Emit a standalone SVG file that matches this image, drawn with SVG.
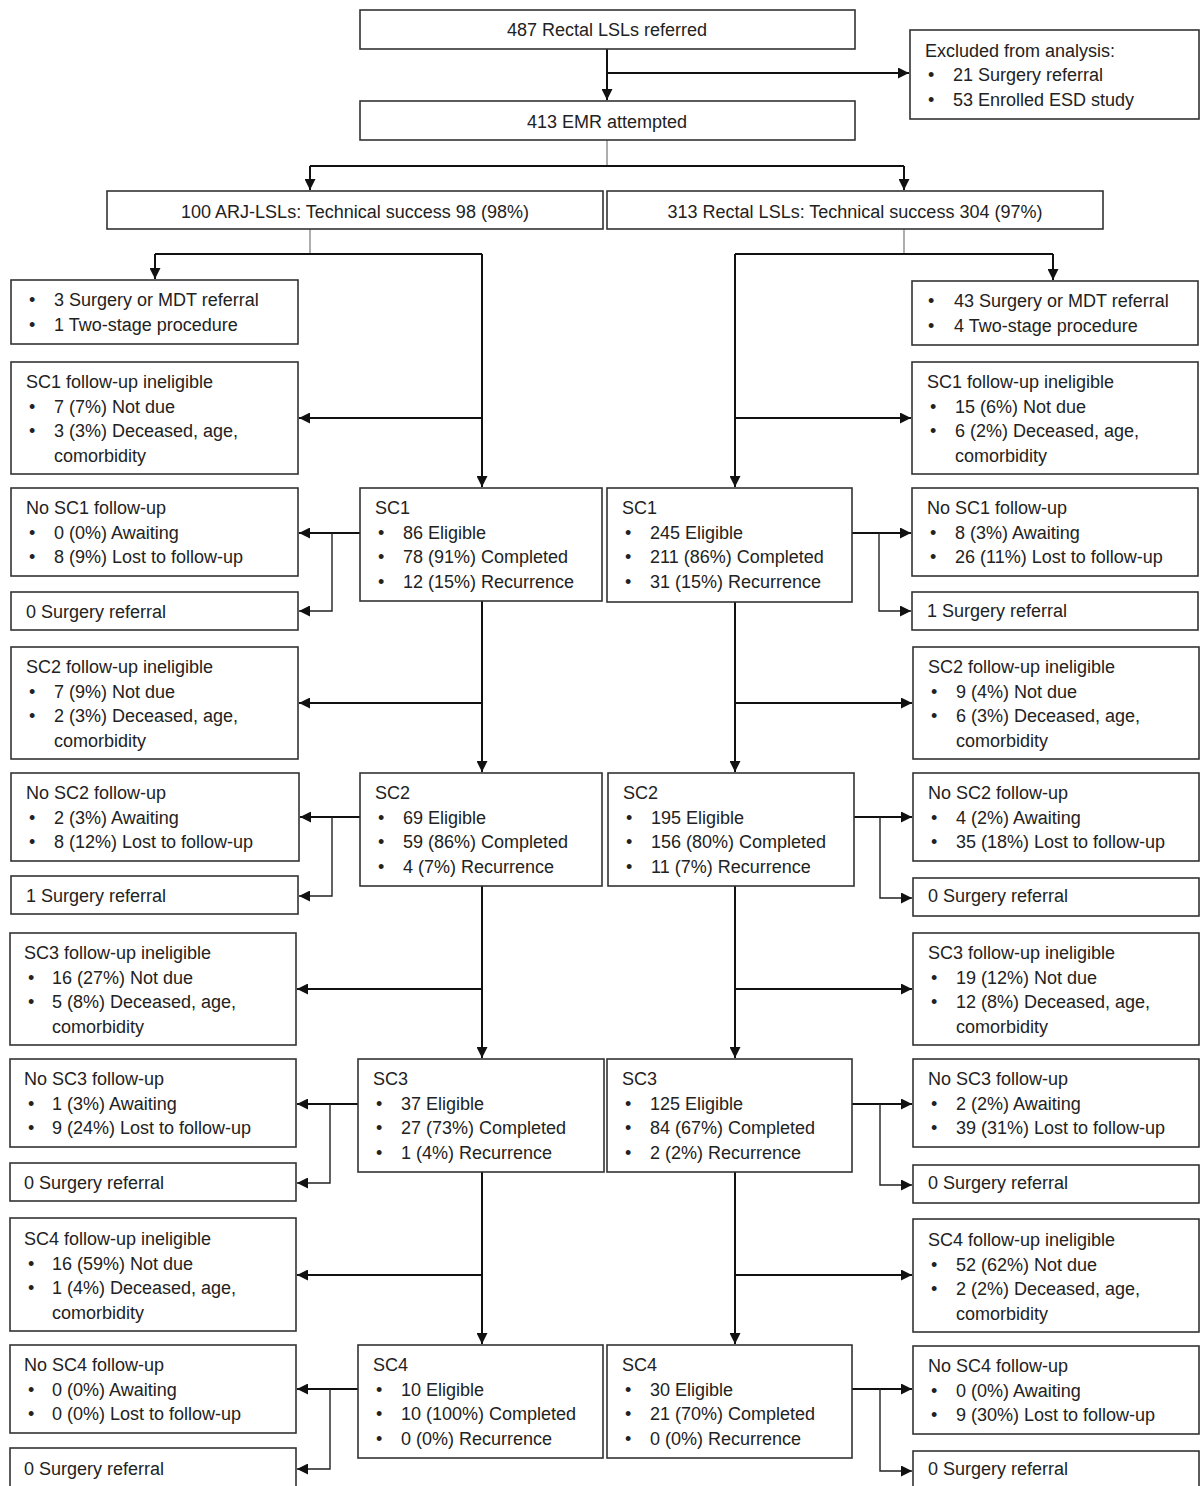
<svg xmlns="http://www.w3.org/2000/svg" width="1200" height="1486" viewBox="0 0 1200 1486">
<style>
rect{fill:#fff;stroke:#333;stroke-width:1.6}
text{font-family:"Liberation Sans",Arial,sans-serif;font-size:18px;fill:#222}
.c{text-anchor:middle}
.k{fill:none;stroke:#111;stroke-width:2}
.t{fill:none;stroke:#777;stroke-width:1.2}
.b{fill:none;stroke:#222;stroke-width:1.4}
</style>
<defs>
<marker id="ah" viewBox="0 0 10 10" refX="10" refY="5" markerWidth="11" markerHeight="11" markerUnits="userSpaceOnUse" orient="auto"><path d="M0,0 L10,5 L0,10 z" fill="#111"/></marker>
</defs>
<rect width="1200" height="1486" style="fill:#fff;stroke:none"/>
<g id="connectors">
<path class="k" d="M607,49 V100" marker-end="url(#ah)"/>
<path class="k" d="M607,73 H909" marker-end="url(#ah)"/>
<path class="t" d="M607,140 V166"/>
<path class="k" d="M310,166 H904"/>
<path class="k" d="M310,166 V190" marker-end="url(#ah)"/>
<path class="k" d="M904,166 V190" marker-end="url(#ah)"/>
<path class="t" d="M310,229 V254"/>
<path class="k" d="M155,254 H482"/>
<path class="k" d="M155,254 V279" marker-end="url(#ah)"/>
<path class="k" d="M482,254 V487" marker-end="url(#ah)"/>
<path class="k" d="M482,418 H299" marker-end="url(#ah)"/>
<path class="t" d="M904,229 V254"/>
<path class="k" d="M735,254 H1053"/>
<path class="k" d="M1053,254 V280" marker-end="url(#ah)"/>
<path class="k" d="M735,254 V487" marker-end="url(#ah)"/>
<path class="k" d="M735,418 H911" marker-end="url(#ah)"/>
<path class="k" d="M360,533 H299" marker-end="url(#ah)"/>
<path class="b" d="M332,533 V611 H299" marker-end="url(#ah)"/>
<path class="k" d="M852,533 H911" marker-end="url(#ah)"/>
<path class="b" d="M879,533 V611 H911" marker-end="url(#ah)"/>
<path class="k" d="M482,601 V772" marker-end="url(#ah)"/>
<path class="k" d="M482,703 H299" marker-end="url(#ah)"/>
<path class="k" d="M735,602 V772" marker-end="url(#ah)"/>
<path class="k" d="M735,703 H912" marker-end="url(#ah)"/>
<path class="k" d="M360,817 H300" marker-end="url(#ah)"/>
<path class="b" d="M332,817 V896 H299" marker-end="url(#ah)"/>
<path class="k" d="M854,817 H912" marker-end="url(#ah)"/>
<path class="b" d="M880,817 V898 H912" marker-end="url(#ah)"/>
<path class="k" d="M482,886 V1058" marker-end="url(#ah)"/>
<path class="k" d="M482,989 H297" marker-end="url(#ah)"/>
<path class="k" d="M735,886 V1058" marker-end="url(#ah)"/>
<path class="k" d="M735,989 H912" marker-end="url(#ah)"/>
<path class="k" d="M358,1104 H297" marker-end="url(#ah)"/>
<path class="b" d="M330,1104 V1183 H297" marker-end="url(#ah)"/>
<path class="k" d="M852,1104 H912" marker-end="url(#ah)"/>
<path class="b" d="M880,1104 V1185 H912" marker-end="url(#ah)"/>
<path class="k" d="M482,1172 V1344" marker-end="url(#ah)"/>
<path class="k" d="M482,1275 H297" marker-end="url(#ah)"/>
<path class="k" d="M735,1172 V1344" marker-end="url(#ah)"/>
<path class="k" d="M735,1275 H912" marker-end="url(#ah)"/>
<path class="k" d="M358,1389 H297" marker-end="url(#ah)"/>
<path class="b" d="M330,1389 V1469 H297" marker-end="url(#ah)"/>
<path class="k" d="M852,1389 H912" marker-end="url(#ah)"/>
<path class="b" d="M880,1389 V1471 H912" marker-end="url(#ah)"/>
</g>

<g id="referred"><rect x="360" y="10" width="495" height="39"/><text class="c" x="607" y="36">487 Rectal LSLs referred</text></g>
<g id="excluded"><rect x="910" y="30" width="289" height="89"/>
<text x="925" y="57">Excluded from analysis:</text>
<text x="928" y="81">•</text><text x="953" y="81">21 Surgery referral</text>
<text x="928" y="106">•</text><text x="953" y="106">53 Enrolled ESD study</text></g>
<g id="emr"><rect x="360" y="101" width="495" height="39"/><text class="c" x="607" y="128">413 EMR attempted</text></g>
<g id="arj"><rect x="107" y="191" width="496" height="38"/><text class="c" x="355" y="218">100 ARJ-LSLs: Technical success 98 (98%)</text></g>
<g id="rectal"><rect x="607" y="191" width="496" height="38"/><text class="c" x="855" y="218">313 Rectal LSLs: Technical success 304 (97%)</text></g>

<g id="L_referral"><rect x="11" y="280" width="287" height="64"/>
<text x="29" y="306">•</text><text x="54" y="306">3 Surgery or MDT referral</text>
<text x="29" y="331">•</text><text x="54" y="331">1 Two-stage procedure</text></g>
<g id="R_referral"><rect x="912" y="281" width="286" height="64"/>
<text x="928" y="307">•</text><text x="954" y="307">43 Surgery or MDT referral</text>
<text x="928" y="332">•</text><text x="954" y="332">4 Two-stage procedure</text></g>

<!-- SC1 -->
<g id="L_sc1_inel"><rect x="11" y="362" width="287" height="112"/>
<text x="26" y="388">SC1 follow-up ineligible</text>
<text x="29" y="413">•</text><text x="54" y="413">7 (7%) Not due</text>
<text x="29" y="437">•</text><text x="54" y="437">3 (3%) Deceased, age,</text>
<text x="54" y="462">comorbidity</text></g>
<g id="R_sc1_inel"><rect x="912" y="362" width="286" height="112"/>
<text x="927" y="388">SC1 follow-up ineligible</text>
<text x="930" y="413">•</text><text x="955" y="413">15 (6%) Not due</text>
<text x="930" y="437">•</text><text x="955" y="437">6 (2%) Deceased, age,</text>
<text x="955" y="462">comorbidity</text></g>
<g id="L_sc1"><rect x="360" y="488" width="242" height="113"/>
<text x="375" y="514">SC1</text>
<text x="378" y="539">•</text><text x="403" y="539">86 Eligible</text>
<text x="378" y="563">•</text><text x="403" y="563">78 (91%) Completed</text>
<text x="378" y="588">•</text><text x="403" y="588">12 (15%) Recurrence</text></g>
<g id="R_sc1"><rect x="607" y="488" width="245" height="114"/>
<text x="622" y="514">SC1</text>
<text x="625" y="539">•</text><text x="650" y="539">245 Eligible</text>
<text x="625" y="563">•</text><text x="650" y="563">211 (86%) Completed</text>
<text x="625" y="588">•</text><text x="650" y="588">31 (15%) Recurrence</text></g>
<g id="L_sc1_nofu"><rect x="11" y="488" width="287" height="88"/>
<text x="26" y="514">No SC1 follow-up</text>
<text x="29" y="539">•</text><text x="54" y="539">0 (0%) Awaiting</text>
<text x="29" y="563">•</text><text x="54" y="563">8 (9%) Lost to follow-up</text></g>
<g id="R_sc1_nofu"><rect x="912" y="488" width="286" height="88"/>
<text x="927" y="514">No SC1 follow-up</text>
<text x="930" y="539">•</text><text x="955" y="539">8 (3%) Awaiting</text>
<text x="930" y="563">•</text><text x="955" y="563">26 (11%) Lost to follow-up</text></g>
<g id="L_sc1_surg"><rect x="11" y="592" width="287" height="38"/><text x="26" y="618">0 Surgery referral</text></g>
<g id="R_sc1_surg"><rect x="912" y="592" width="286" height="38"/><text x="927" y="617">1 Surgery referral</text></g>

<!-- SC2 -->
<g id="L_sc2_inel"><rect x="11" y="647" width="287" height="112"/>
<text x="26" y="673">SC2 follow-up ineligible</text>
<text x="29" y="698">•</text><text x="54" y="698">7 (9%) Not due</text>
<text x="29" y="722">•</text><text x="54" y="722">2 (3%) Deceased, age,</text>
<text x="54" y="747">comorbidity</text></g>
<g id="R_sc2_inel"><rect x="913" y="647" width="286" height="112"/>
<text x="928" y="673">SC2 follow-up ineligible</text>
<text x="931" y="698">•</text><text x="956" y="698">9 (4%) Not due</text>
<text x="931" y="722">•</text><text x="956" y="722">6 (3%) Deceased, age,</text>
<text x="956" y="747">comorbidity</text></g>
<g id="L_sc2"><rect x="360" y="773" width="242" height="113"/>
<text x="375" y="799">SC2</text>
<text x="378" y="824">•</text><text x="403" y="824">69 Eligible</text>
<text x="378" y="848">•</text><text x="403" y="848">59 (86%) Completed</text>
<text x="378" y="873">•</text><text x="403" y="873">4 (7%) Recurrence</text></g>
<g id="R_sc2"><rect x="608" y="773" width="246" height="113"/>
<text x="623" y="799">SC2</text>
<text x="626" y="824">•</text><text x="651" y="824">195 Eligible</text>
<text x="626" y="848">•</text><text x="651" y="848">156 (80%) Completed</text>
<text x="626" y="873">•</text><text x="651" y="873">11 (7%) Recurrence</text></g>
<g id="L_sc2_nofu"><rect x="11" y="773" width="288" height="88"/>
<text x="26" y="799">No SC2 follow-up</text>
<text x="29" y="824">•</text><text x="54" y="824">2 (3%) Awaiting</text>
<text x="29" y="848">•</text><text x="54" y="848">8 (12%) Lost to follow-up</text></g>
<g id="R_sc2_nofu"><rect x="913" y="773" width="286" height="88"/>
<text x="928" y="799">No SC2 follow-up</text>
<text x="931" y="824">•</text><text x="956" y="824">4 (2%) Awaiting</text>
<text x="931" y="848">•</text><text x="956" y="848">35 (18%) Lost to follow-up</text></g>
<g id="L_sc2_surg"><rect x="11" y="876" width="287" height="38"/><text x="26" y="902">1 Surgery referral</text></g>
<g id="R_sc2_surg"><rect x="913" y="878" width="286" height="38"/><text x="928" y="902">0 Surgery referral</text></g>

<!-- SC3 -->
<g id="L_sc3_inel"><rect x="10" y="933" width="286" height="112"/>
<text x="24" y="959">SC3 follow-up ineligible</text>
<text x="28" y="984">•</text><text x="52" y="984">16 (27%) Not due</text>
<text x="28" y="1008">•</text><text x="52" y="1008">5 (8%) Deceased, age,</text>
<text x="52" y="1033">comorbidity</text></g>
<g id="R_sc3_inel"><rect x="913" y="933" width="286" height="112"/>
<text x="928" y="959">SC3 follow-up ineligible</text>
<text x="931" y="984">•</text><text x="956" y="984">19 (12%) Not due</text>
<text x="931" y="1008">•</text><text x="956" y="1008">12 (8%) Deceased, age,</text>
<text x="956" y="1033">comorbidity</text></g>
<g id="L_sc3"><rect x="358" y="1059" width="246" height="113"/>
<text x="373" y="1085">SC3</text>
<text x="376" y="1110">•</text><text x="401" y="1110">37 Eligible</text>
<text x="376" y="1134">•</text><text x="401" y="1134">27 (73%) Completed</text>
<text x="376" y="1159">•</text><text x="401" y="1159">1 (4%) Recurrence</text></g>
<g id="R_sc3"><rect x="607" y="1059" width="245" height="113"/>
<text x="622" y="1085">SC3</text>
<text x="625" y="1110">•</text><text x="650" y="1110">125 Eligible</text>
<text x="625" y="1134">•</text><text x="650" y="1134">84 (67%) Completed</text>
<text x="625" y="1159">•</text><text x="650" y="1159">2 (2%) Recurrence</text></g>
<g id="L_sc3_nofu"><rect x="10" y="1059" width="286" height="88"/>
<text x="24" y="1085">No SC3 follow-up</text>
<text x="28" y="1110">•</text><text x="52" y="1110">1 (3%) Awaiting</text>
<text x="28" y="1134">•</text><text x="52" y="1134">9 (24%) Lost to follow-up</text></g>
<g id="R_sc3_nofu"><rect x="913" y="1059" width="286" height="88"/>
<text x="928" y="1085">No SC3 follow-up</text>
<text x="931" y="1110">•</text><text x="956" y="1110">2 (2%) Awaiting</text>
<text x="931" y="1134">•</text><text x="956" y="1134">39 (31%) Lost to follow-up</text></g>
<g id="L_sc3_surg"><rect x="10" y="1163" width="286" height="38"/><text x="24" y="1189">0 Surgery referral</text></g>
<g id="R_sc3_surg"><rect x="913" y="1165" width="286" height="38"/><text x="928" y="1189">0 Surgery referral</text></g>

<!-- SC4 -->
<g id="L_sc4_inel"><rect x="10" y="1218" width="286" height="113"/>
<text x="24" y="1245">SC4 follow-up ineligible</text>
<text x="28" y="1270">•</text><text x="52" y="1270">16 (59%) Not due</text>
<text x="28" y="1294">•</text><text x="52" y="1294">1 (4%) Deceased, age,</text>
<text x="52" y="1319">comorbidity</text></g>
<g id="R_sc4_inel"><rect x="913" y="1219" width="286" height="113"/>
<text x="928" y="1246">SC4 follow-up ineligible</text>
<text x="931" y="1271">•</text><text x="956" y="1271">52 (62%) Not due</text>
<text x="931" y="1295">•</text><text x="956" y="1295">2 (2%) Deceased, age,</text>
<text x="956" y="1320">comorbidity</text></g>
<g id="L_sc4"><rect x="358" y="1345" width="245" height="113"/>
<text x="373" y="1371">SC4</text>
<text x="376" y="1396">•</text><text x="401" y="1396">10 Eligible</text>
<text x="376" y="1420">•</text><text x="401" y="1420">10 (100%) Completed</text>
<text x="376" y="1445">•</text><text x="401" y="1445">0 (0%) Recurrence</text></g>
<g id="R_sc4"><rect x="607" y="1345" width="245" height="113"/>
<text x="622" y="1371">SC4</text>
<text x="625" y="1396">•</text><text x="650" y="1396">30 Eligible</text>
<text x="625" y="1420">•</text><text x="650" y="1420">21 (70%) Completed</text>
<text x="625" y="1445">•</text><text x="650" y="1445">0 (0%) Recurrence</text></g>
<g id="L_sc4_nofu"><rect x="10" y="1345" width="286" height="88"/>
<text x="24" y="1371">No SC4 follow-up</text>
<text x="28" y="1396">•</text><text x="52" y="1396">0 (0%) Awaiting</text>
<text x="28" y="1420">•</text><text x="52" y="1420">0 (0%) Lost to follow-up</text></g>
<g id="R_sc4_nofu"><rect x="913" y="1346" width="286" height="88"/>
<text x="928" y="1372">No SC4 follow-up</text>
<text x="931" y="1397">•</text><text x="956" y="1397">0 (0%) Awaiting</text>
<text x="931" y="1421">•</text><text x="956" y="1421">9 (30%) Lost to follow-up</text></g>
<g id="L_sc4_surg"><rect x="10" y="1448" width="286" height="45"/><text x="24" y="1475">0 Surgery referral</text></g>
<g id="R_sc4_surg"><rect x="913" y="1451" width="286" height="45"/><text x="928" y="1475">0 Surgery referral</text></g>
</svg>
